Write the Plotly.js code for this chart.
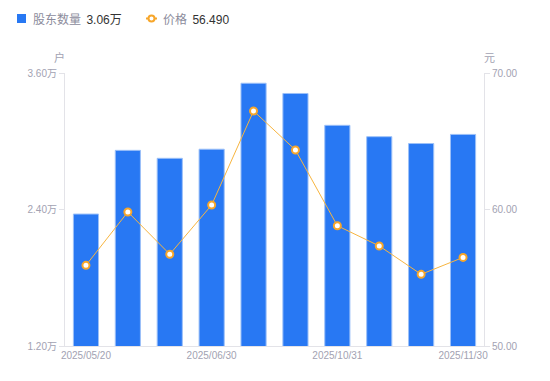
<!DOCTYPE html>
<html>
<head>
<meta charset="utf-8">
<script src="https://cdn.plot.ly/plotly-3.0.1.min.js"></script>
<style>html,body{margin:0;padding:0;background:#fff;}#chart{width:550px;height:381px;}</style>
</head>
<body>
<div id="chart"></div>
<script>
// Data
const dates = ["2025/05/20","2025/06/10","2025/06/20","2025/06/30","2025/08/31","2025/09/30","2025/10/31","2025/11/10","2025/11/20","2025/11/30"];
const holders = [2.36, 2.92, 2.85, 2.93, 3.51, 3.42, 3.14, 3.04, 2.98, 3.06]; // 万户
const prices = [55.91, 59.82, 56.72, 60.33, 67.22, 64.36, 58.81, 57.33, 55.25, 56.49]; // 元
const shownTicks = ["2025/05/20","2025/06/30","2025/10/31","2025/11/30"];
const seriesNames = ["股东数量", "价格"];

const FONT = "Liberation Sans, Arial, 'Noto Sans CJK SC', sans-serif";
const CJK = "'Noto Sans CJK SC', 'Liberation Sans', sans-serif";
const grey = "#a2a2b2";
const axisLine = "#e3e3e8";

const traces = [
  {
    type: "bar", x: dates, y: holders, name: seriesNames[0],
    width: 0.6,
    marker: {color: "#2878f3", line: {color: "#9cc0f8", width: 1}},
    hoverinfo: "x+y", showlegend: false
  },
  {
    type: "scatter", mode: "lines+markers", x: dates, y: prices, name: seriesNames[1],
    yaxis: "y2",
    line: {color: "#f7b540", width: 1},
    marker: {size: 7, color: "#ffffff", line: {color: "#f7a62a", width: 2}},
    showlegend: false
  }
];

const lastH = holders[holders.length - 1].toFixed(2) + "万";
const lastP = prices[prices.length - 1].toFixed(3);

const layout = {
  width: 550, height: 381,
  margin: {l: 65, r: 66, t: 73, b: 35},
  paper_bgcolor: "#fff", plot_bgcolor: "#fff",
  font: {family: FONT, size: 10, color: grey},
  showlegend: false,
  bargap: 0.4,
  xaxis: {
    type: "category", range: [-0.5, 9.5],
    tickmode: "array", tickvals: shownTicks, ticktext: shownTicks,
    showline: true, linecolor: axisLine, linewidth: 1,
    ticks: "", showgrid: false, zeroline: false,
    tickfont: {family: FONT, size: 10, color: grey},
    fixedrange: true
  },
  yaxis: {
    range: [1.2, 3.6], tickmode: "array", tickvals: [1.2, 2.4, 3.6],
    ticktext: [1.2, 2.4, 3.6].map(v => v.toFixed(2) + "万"),
    showline: true, linecolor: axisLine, linewidth: 1,
    ticks: "outside", ticklen: 5, tickcolor: axisLine,
    showgrid: false, zeroline: false,
    tickfont: {family: FONT, size: 10, color: grey}
  },
  yaxis2: {
    overlaying: "y", side: "right", range: [50, 70],
    tickmode: "array", tickvals: [50, 60, 70],
    ticktext: [50, 60, 70].map(v => v.toFixed(2)),
    showline: true, linecolor: axisLine, linewidth: 1,
    ticks: "outside", ticklen: 5, tickcolor: axisLine,
    showgrid: false, zeroline: false,
    tickfont: {family: FONT, size: 10, color: grey}
  },
  shapes: [
    {type: "rect", xref: "paper", yref: "paper", xsizemode: "pixel", ysizemode: "pixel",
     xanchor: 0, yanchor: 1, x0: -48, x1: -39, y0: 50, y1: 59,
     fillcolor: "#2878f3", line: {width: 0}},
    {type: "line", xref: "paper", yref: "paper", xsizemode: "pixel", ysizemode: "pixel",
     xanchor: 0, yanchor: 1, x0: 81, x1: 92, y0: 54.5, y1: 54.5,
     line: {color: "#f7a62a", width: 2}},
    {type: "circle", xref: "paper", yref: "paper", xsizemode: "pixel", ysizemode: "pixel",
     xanchor: 0, yanchor: 1, x0: 83.5, x1: 89.5, y0: 51.5, y1: 57.5,
     fillcolor: "#ffffff", line: {color: "#f7a62a", width: 2}}
  ],
  annotations: [
    {xref: "paper", yref: "paper", x: 0, y: 1, xshift: -34, yshift: 54.5,
     xanchor: "left", yanchor: "middle", showarrow: false,
     text: seriesNames[0] + "  <span style='color:#333;font-family:Liberation Sans, Noto Sans CJK SC'>" + lastH + "</span>",
     font: {family: CJK, size: 12, color: "#8c8c9c"}},
    {xref: "paper", yref: "paper", x: 0, y: 1, xshift: 96, yshift: 54.5,
     xanchor: "left", yanchor: "middle", showarrow: false,
     text: seriesNames[1] + "  <span style='color:#333;font-family:Liberation Sans'>" + lastP + "</span>",
     font: {family: CJK, size: 12, color: "#8c8c9c"}},
    {xref: "paper", yref: "paper", x: 0, y: 1, xshift: -6, yshift: 16,
     xanchor: "center", yanchor: "middle", showarrow: false,
     text: "户", font: {family: CJK, size: 11, color: grey}},
    {xref: "paper", yref: "paper", x: 1, y: 1, xshift: 5, yshift: 16,
     xanchor: "center", yanchor: "middle", showarrow: false,
     text: "元", font: {family: CJK, size: 11, color: grey}}
  ]
};

Plotly.newPlot("chart", traces, layout, {displayModeBar: false, staticPlot: true});
</script>
</body>
</html>
